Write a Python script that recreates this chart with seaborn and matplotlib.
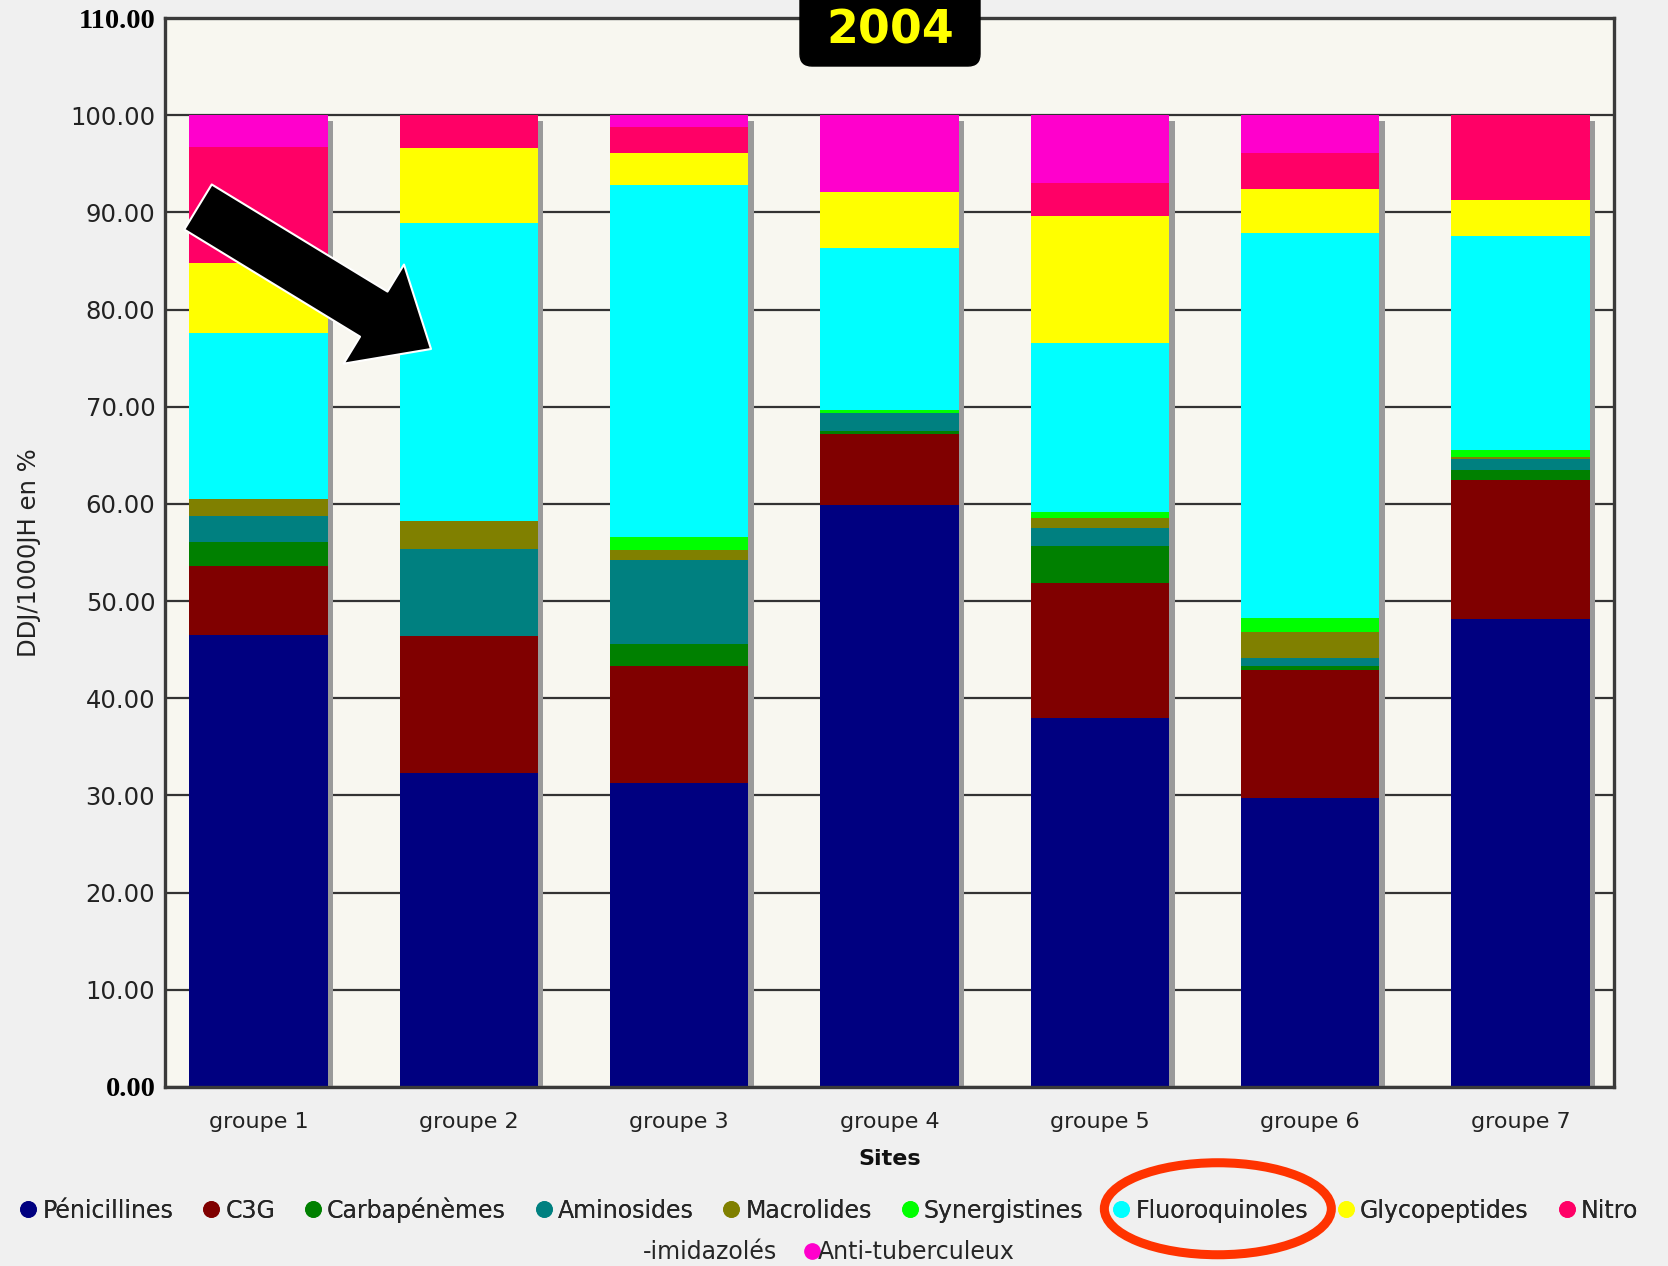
import matplotlib
matplotlib.use("Agg")
import matplotlib.pyplot as plt
import matplotlib.patheffects as pe
from matplotlib.lines import Line2D
from matplotlib.patches import Ellipse, FancyBboxPatch
from matplotlib.transforms import IdentityTransform
import seaborn as sns
import numpy as np

# ---------------- data ----------------
groups = ["groupe 1", "groupe 2", "groupe 3", "groupe 4", "groupe 5", "groupe 6", "groupe 7"]

penicillines    = [46.5, 32.3, 31.3, 59.9, 38.0, 29.7, 48.2]
c3g             = [7.1, 14.1, 12.0, 7.3, 13.9, 13.2, 14.3]
carbapenemes    = [2.5, 0.0, 2.3, 0.3, 3.8, 0.4, 1.0]
aminosides      = [2.7, 9.0, 8.6, 1.9, 1.8, 0.8, 1.1]
macrolides      = [1.7, 2.8, 1.1, 0.0, 1.1, 2.7, 0.2]
synergistines   = [0.0, 0.0, 1.3, 0.3, 0.6, 1.5, 0.7]
fluoroquinoles  = [17.1, 30.7, 36.2, 16.6, 17.4, 39.6, 22.1]
glycopeptides   = [7.2, 7.7, 3.3, 5.8, 13.0, 4.5, 3.7]
nitroimidazoles = [11.9, 3.4, 2.7, 0.0, 3.4, 3.7, 8.7]
antituberculeux = [3.3, 0.0, 1.2, 7.9, 7.0, 3.9, 0.0]

series_names = ["Pénicillines", "C3G", "Carbapénèmes", "Aminosides", "Macrolides",
                "Synergistines", "Fluoroquinoles", "Glycopeptides", "Nitro-imidazolés",
                "Anti-tuberculeux"]
series_values = [penicillines, c3g, carbapenemes, aminosides, macrolides,
                 synergistines, fluoroquinoles, glycopeptides, nitroimidazoles,
                 antituberculeux]
series_colors = ["#000080", "#800000", "#008000", "#008080", "#808000",
                 "#00FF00", "#00FFFF", "#FFFF00", "#FF0066", "#FF00CC"]

title_text = "2004"
x_label = "Sites"
y_label = "DDJ/1000JH en %"
y_ticks = list(range(0, 111, 10))

# ---------------- figure ----------------
sns.set_style("white")
plt.rcParams["font.family"] = ["DejaVu Sans"]

W, H = 1668, 1266
fig = plt.figure(figsize=(W / 100, H / 100), dpi=100, facecolor="#F0F0F0")
ax = fig.add_axes([165 / W, 1 - 1087 / H, (1614 - 165) / W, (1087 - 18) / H])
ax.set_facecolor("#F8F7F0")

bar_w = 0.657
shadow = [pe.SimplePatchShadow(offset=(4, -4), shadow_rgbFace="#9a9a9a", alpha=1.0)]

# shadow behind each stacked bar (only the shadow is drawn)
totals = np.sum(np.array(series_values), axis=0)
sns.barplot(x=groups, y=totals, color="#999999", saturation=1, width=bar_w,
            errorbar=None, ax=ax, zorder=2, linewidth=0)
for p in ax.patches:
    p.set_path_effects(shadow)

bottom = np.zeros(len(groups))
for name, vals, col in zip(series_names, series_values, series_colors):
    sns.barplot(x=groups, y=vals, bottom=bottom, color=col, saturation=1,
                width=bar_w, errorbar=None, ax=ax, zorder=3, linewidth=0)
    bottom = bottom + np.array(vals)

ax.set_xlim(-0.444, 6.444)
ax.set_ylim(0, 110)
ax.set_yticks(y_ticks)
ax.set_yticklabels([f"{v:.2f}" for v in y_ticks], fontsize=17.5, color="#222222")
for lbl in ax.get_yticklabels():
    if lbl.get_text() in ("0.00", "110.00"):
        lbl.set_fontfamily("Liberation Serif")
        lbl.set_fontweight("bold")
        lbl.set_fontsize(20.5)
        lbl.set_color("#000000")
ax.tick_params(axis="y", length=0, pad=7)
ax.tick_params(axis="x", length=0, pad=18, labelsize=16, labelcolor="#222222")

ax.yaxis.grid(True, color="#333333", linewidth=1.6)
ax.xaxis.grid(False)
ax.set_axisbelow(True)

for s in ax.spines.values():
    s.set_visible(True)
    s.set_color("#3a3a3a")
    s.set_linewidth(2.4)
    s.set_zorder(5)

ax.set_xlabel(x_label, fontsize=16, fontweight="bold", labelpad=12, color="#111111")
ax.set_ylabel(y_label, fontsize=17.5, labelpad=21, color="#222222")

# ---------------- legend ----------------
def handle(c):
    return Line2D([], [], marker="o", linestyle="", markersize=11, color=c)

row1_labels = series_names[:8] + ["Nitro"]
leg1 = fig.legend([handle(c) for c in series_colors[:9]], row1_labels,
                  loc="center", bbox_to_anchor=(0.497, 1 - 1210 / H), ncol=9,
                  frameon=False, fontsize=17, handlelength=0.7, handletextpad=0.25,
                  columnspacing=1.25, borderaxespad=0)
fig.add_artist(leg1)
leg2 = fig.legend([Line2D([], [], linestyle="", marker=""), handle(series_colors[9])],
                  ["-imidazolés", "Anti-tuberculeux"],
                  loc="center", bbox_to_anchor=(0.495, 1 - 1252 / H), ncol=2,
                  frameon=False, fontsize=17, handlelength=0.0, handletextpad=0.25,
                  columnspacing=1.5, borderaxespad=0)

# ---------------- annotations ----------------
box = FancyBboxPatch((800, H - 66), 180, 90, boxstyle="round,pad=0,rounding_size=12",
                     transform=IdentityTransform(), facecolor="black", edgecolor="black",
                     zorder=10)
fig.add_artist(box)
fig.text(890 / W, 1 - 31 / H, title_text, ha="center", va="center", fontsize=33,
         fontweight="bold", color="#FFFF00", zorder=11)

ax.annotate("", xy=(431, H - 349), xytext=(198, H - 207),
            xycoords="figure pixels", textcoords="figure pixels",
            arrowprops=dict(arrowstyle="simple,head_length=1.27,head_width=2.2,tail_width=1.0",
                            mutation_scale=38, fc="black", ec="white", lw=1.5,
                            shrinkA=0, shrinkB=0), zorder=12, annotation_clip=False)

# red ellipse around the "Fluoroquinoles" legend entry
fig.canvas.draw()
tb = leg1.get_texts()[6].get_window_extent(fig.canvas.get_renderer())
cx = (tb.x0 + tb.x1) / 2 - 4
cy = (tb.y0 + tb.y1) / 2 + 2
ell = Ellipse((cx, cy), 227, 92, transform=IdentityTransform(),
              fill=False, edgecolor="#FF3300", linewidth=6.5, zorder=12)
fig.add_artist(ell)

fig.savefig("out.png", dpi=100, facecolor=fig.get_facecolor())
